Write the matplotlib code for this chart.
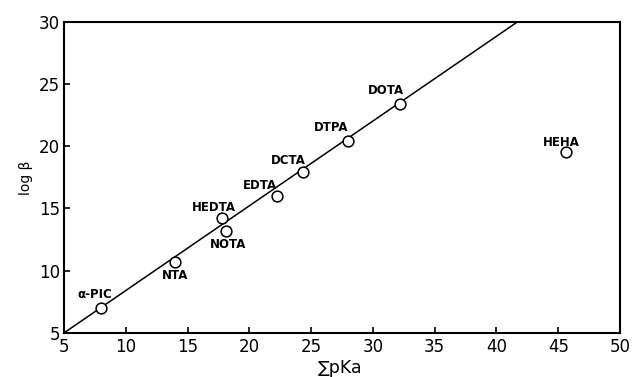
import matplotlib
matplotlib.use("Agg")
import matplotlib.pyplot as plt

ligands = ["α-PIC", "NTA", "HEDTA", "NOTA", "EDTA", "DCTA", "DTPA", "DOTA", "HEHA"]
sum_pka = [8.0, 14.0, 17.8, 18.1, 22.2, 24.3, 28.0, 32.2, 45.6]
log_beta = [7.0, 10.7, 14.2, 13.2, 16.0, 17.9, 20.4, 23.4, 19.5]
fit_x = [5.0, 41.7]
fit_y = [5.0, 30.0]
x_ticks = [5, 10, 15, 20, 25, 30, 35, 40, 45, 50]
y_ticks = [5, 10, 15, 20, 25, 30]

# label offsets in pixels (styling)
offsets = [(-6, 14), (0, -14), (-8, 11), (2, -14), (-17, 11), (-14, 12), (-17, 14), (-14, 13), (-4, 10)]

plt.rcParams['font.family'] = ['DejaVu Sans']
fig = plt.figure(figsize=(6.34, 3.77), dpi=100)
ax = fig.add_axes([0.101, 0.117, 0.877, 0.825])

ax.plot(fit_x, fit_y, color='black', lw=1.1)
ax.scatter(sum_pka, log_beta, s=60, facecolors='white', edgecolors='black', linewidths=1.1, zorder=3)

for name, x, y, (dx, dy) in zip(ligands, sum_pka, log_beta, offsets):
    ax.annotate(name, (x, y), xytext=(dx, dy), textcoords='offset pixels',
                ha='center', va='center', fontsize=8.5, fontweight='bold')

ax.set_xlim(5, 50)
ax.set_ylim(5, 30)
ax.set_xticks(x_ticks)
ax.set_yticks(y_ticks)
ax.tick_params(direction='in', length=4, width=1.2, labelsize=12)
ax.tick_params(axis='x', pad=4)
ax.tick_params(axis='y', pad=3)
for s in ax.spines.values():
    s.set_linewidth(1.5)

ax.set_ylabel("log β", fontsize=10, labelpad=4)
fig.text(0.536, 0.025, "∑pKa", fontsize=12.5, ha='center', va='center')

fig.savefig("out.png", dpi=100)
